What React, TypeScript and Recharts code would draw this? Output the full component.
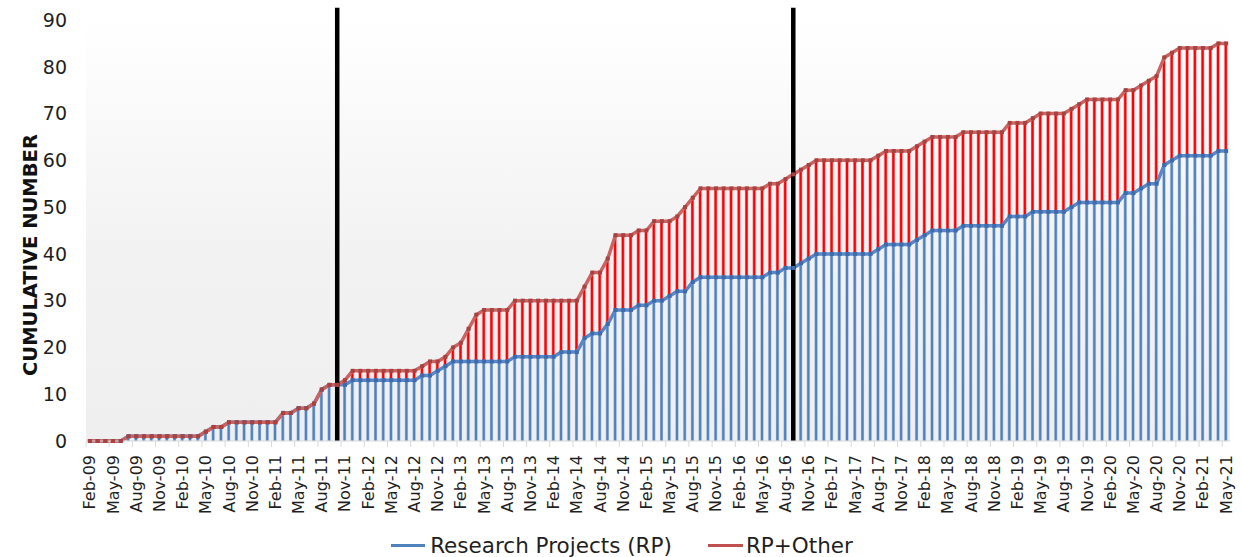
import React from "react";
import {
  ComposedChart,
  Bar,
  Line,
  XAxis,
  YAxis,
  CartesianGrid,
  ReferenceLine,
  Legend,
} from "recharts";

const MONTH_NAMES = ["Jan", "Feb", "Mar", "Apr", "May", "Jun", "Jul", "Aug", "Sep", "Oct", "Nov", "Dec"];

// cumulative research projects, Feb-09 .. May-21 (one row per year)
const rpCounts = [
  0, 0, 0, 0, 0, 1, 1, 1, 1, 1, 1,
  1, 1, 1, 1, 2, 3, 3, 4, 4, 4, 4, 4,
  4, 4, 6, 6, 7, 7, 8, 11, 12, 12, 12, 13,
  13, 13, 13, 13, 13, 13, 13, 13, 14, 14, 15, 16,
  17, 17, 17, 17, 17, 17, 17, 17, 18, 18, 18, 18,
  18, 18, 19, 19, 19, 22, 23, 23, 25, 28, 28, 28,
  29, 29, 30, 30, 31, 32, 32, 34, 35, 35, 35, 35,
  35, 35, 35, 35, 35, 36, 36, 37, 37, 38, 39, 40,
  40, 40, 40, 40, 40, 40, 40, 41, 42, 42, 42, 42,
  43, 44, 45, 45, 45, 45, 46, 46, 46, 46, 46, 46,
  48, 48, 48, 49, 49, 49, 49, 49, 50, 51, 51, 51,
  51, 51, 51, 53, 53, 54, 55, 55, 59, 60, 61, 61,
  61, 61, 61, 62, 62,
];

// cumulative research projects + other
const totalCounts = [
  0, 0, 0, 0, 0, 1, 1, 1, 1, 1, 1,
  1, 1, 1, 1, 2, 3, 3, 4, 4, 4, 4, 4,
  4, 4, 6, 6, 7, 7, 8, 11, 12, 12, 13, 15,
  15, 15, 15, 15, 15, 15, 15, 15, 16, 17, 17, 18,
  20, 21, 24, 27, 28, 28, 28, 28, 30, 30, 30, 30,
  30, 30, 30, 30, 30, 33, 36, 36, 39, 44, 44, 44,
  45, 45, 47, 47, 47, 48, 50, 52, 54, 54, 54, 54,
  54, 54, 54, 54, 54, 55, 55, 56, 57, 58, 59, 60,
  60, 60, 60, 60, 60, 60, 60, 61, 62, 62, 62, 62,
  63, 64, 65, 65, 65, 65, 66, 66, 66, 66, 66, 66,
  68, 68, 68, 69, 70, 70, 70, 70, 71, 72, 73, 73,
  73, 73, 73, 75, 75, 76, 77, 78, 82, 83, 84, 84,
  84, 84, 84, 85, 85,
];

const months: string[] = [];
for (let k = 1; k <= rpCounts.length; k++) {
  months.push(`${MONTH_NAMES[k % 12]}-${String(9 + Math.floor(k / 12)).padStart(2, "0")}`);
}

const yTicks = [0, 10, 20, 30, 40, 50, 60, 70, 80, 90];
const phaseMarks = ["Oct-11", "Sep-16"];

const data = months.map((m, i) => ({
  month: m,
  rp: rpCounts[i],
  other: totalCounts[i] - rpCounts[i],
  total: totalCounts[i],
}));

const W = 1241;
const H = 557;
const PLOT_LEFT = 86;
const PLOT_RIGHT = 1230;
const BAND = (PLOT_RIGHT - PLOT_LEFT) / months.length;
const FONT = "'DejaVu Sans', Verdana, sans-serif";

function MonthTick({ x, y, payload }: any) {
  const tx = x - BAND / 2;
  return (
    <g>
      <line x1={tx} x2={tx} y1={y - 8} y2={y - 2} stroke="#d9d9d9" strokeWidth={1} />
      <text
        x={x}
        y={y + 6}
        transform={`rotate(-90 ${x} ${y + 6})`}
        textAnchor="end"
        dominantBaseline="central"
        fontSize={16}
        fontFamily={FONT}
        fill="#1f1f1f"
      >
        {payload.value}
      </text>
    </g>
  );
}

const squareDot = (color: string) => (p: any) => (
  <rect key={`dot-${p.index}`} x={p.cx - 2} y={p.cy - 2} width={4} height={4} fill={color} />
);

const renderLegend = () => (
  <div
    style={{
      height: 40,
      display: "flex",
      justifyContent: "center",
      alignItems: "center",
      paddingTop: 16,
      paddingLeft: 14,
      boxSizing: "border-box",
      fontFamily: FONT,
      fontSize: 21.5,
      color: "#1f1f1f",
    }}
  >
    <span style={{ width: 34, height: 3, background: "#4f81bd", marginRight: 5 }} />
    <span>Research Projects (RP)</span>
    <span style={{ width: 35, height: 3, background: "#c0504d", marginLeft: 36, marginRight: 3 }} />
    <span>RP+Other</span>
  </div>
);

export default function App() {
  return (
    <div style={{ position: "absolute", left: 0, top: 0, width: W, height: H, background: "#fff" }}>
      <ComposedChart
        width={W}
        height={H}
        data={data}
        margin={{ top: 20, right: W - PLOT_RIGHT, left: 0, bottom: 0 }}
        barGap={0}
      >
        <defs>
          <linearGradient id="plotBg" x1="0" y1="0" x2="0" y2="1">
            <stop offset="0%" stopColor="#ffffff" />
            <stop offset="55%" stopColor="#f2f2f2" />
            <stop offset="100%" stopColor="#efefef" />
          </linearGradient>
        </defs>
        <CartesianGrid horizontal={false} vertical={false} fill="url(#plotBg)" />
        <XAxis
          dataKey="month"
          interval={2}
          height={76}
          tickLine={false}
          axisLine={{ stroke: "#d9d9d9" }}
          tick={<MonthTick />}
        />
        <YAxis
          width={PLOT_LEFT}
          domain={[0, 90]}
          ticks={yTicks}
          axisLine={false}
          tickLine={false}
          tickSize={0}
          tickMargin={19}
          tick={{ fontSize: 19, fontFamily: FONT, fill: "#1f1f1f" }}
          label={() => (
            <text
              x={30}
              y={255}
              transform="rotate(-90 30 255)"
              textAnchor="middle"
              dominantBaseline="central"
              fontSize={19.5}
              fontWeight={700}
              fontFamily={FONT}
              fill="#111"
            >
              CUMULATIVE NUMBER
            </text>
          )}
        />
        <Legend verticalAlign="bottom" height={40} content={renderLegend} />
        <Bar
          dataKey="rp"
          stackId="s"
          barSize={3}
          fill="#4f81bd"
          stroke="#d6e2f2"
          strokeWidth={0.5}
          legendType="none"
          isAnimationActive={false}
        />
        <Bar
          dataKey="other"
          stackId="s"
          barSize={3}
          fill="#ff0000"
          stroke="#f4d0dc"
          strokeWidth={0.5}
          legendType="none"
          isAnimationActive={false}
        />
        <Line
          dataKey="rp"
          name="Research Projects (RP)"
          stroke="#5a88c6"
          strokeWidth={3.5}
          dot={squareDot("#3d6cae")}
          activeDot={false}
          isAnimationActive={false}
        />
        <Line
          dataKey="total"
          name="RP+Other"
          stroke="#c86462"
          strokeWidth={3.5}
          dot={squareDot("#a8413f")}
          activeDot={false}
          isAnimationActive={false}
        />
        {phaseMarks.map((m) => (
          <ReferenceLine
            key={m}
            segment={[
              { x: m, y: 0 },
              { x: m, y: 92.6 },
            ]}
            stroke="#000"
            strokeWidth={4.5}
            ifOverflow="visible"
          />
        ))}
      </ComposedChart>
    </div>
  );
}
